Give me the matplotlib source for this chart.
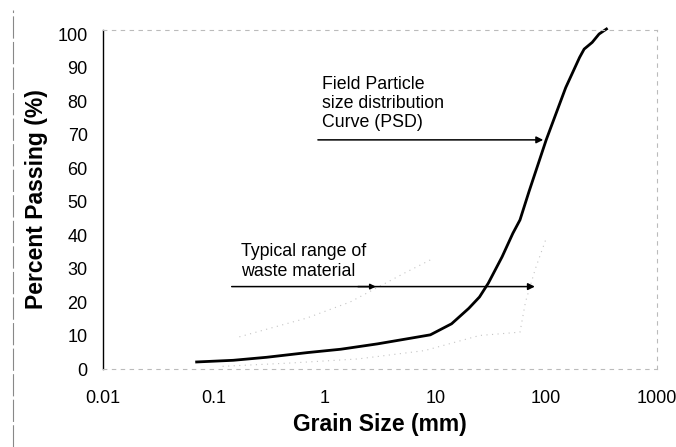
import matplotlib
matplotlib.use("Agg")
import matplotlib.pyplot as plt
from matplotlib.lines import Line2D

# PSD curve data (grain size mm, percent passing)
grain_size = [0.07, 0.15, 0.3, 0.7, 1.4, 3, 6, 9, 14, 20, 25, 30, 40, 50, 58, 70, 100, 150, 200, 220, 260, 300, 350]
percent_passing = [2.1, 2.6, 3.5, 4.9, 5.9, 7.5, 9.2, 10.2, 13.5, 18.1, 21.5, 25.6, 33.5, 40.5, 44.5, 53, 68.4, 84, 93, 95.5, 97.5, 100, 101.5]

# faint envelope of typical waste material range
upper_x = [0.17, 0.69, 1.7, 5.3, 9.3]
upper_y = [9.6, 15.2, 20.0, 28.7, 32.8]
lower_x = [0.12, 0.5, 2, 8, 25, 58, 65, 80, 100]
lower_y = [0.8, 1.8, 3.0, 5.5, 10.0, 11.0, 20.0, 30.0, 39.0]

x_ticks = [0.01, 0.1, 1, 10, 100, 1000]
x_ticklabels = ["0.01", "0.1", "1", "10", "100", "1000"]
y_ticks = [0, 10, 20, 30, 40, 50, 60, 70, 80, 90, 100]

plt.rcParams['font.family'] = ['Liberation Sans', 'DejaVu Sans']

fig = plt.figure(figsize=(6.76, 4.47), dpi=100)
ax = fig.add_axes([103/676, 1 - 369/447, (657-103)/676, (369-30)/447])

ax.set_xscale('log')
ax.set_xlim(0.01, 1000)
ax.set_ylim(0, 101.2)

ax.plot(upper_x, upper_y, color='#c4c4c4', lw=0.8, ls=(0, (1, 4)))
ax.plot(lower_x, lower_y, color='#c4c4c4', lw=0.8, ls=(0, (1, 4)))

ax.plot(grain_size, percent_passing, color='black', lw=2.0, clip_on=False)

# arrows
ax.annotate('', xy=(94, 68.4), xytext=(0.87, 68.4),
            arrowprops=dict(arrowstyle='-|>', color='black', lw=1.1, mutation_scale=10,
                            shrinkA=0, shrinkB=0))
ax.annotate('', xy=(79, 24.6), xytext=(0.145, 24.6),
            arrowprops=dict(arrowstyle='-|>', color='black', lw=1.1, mutation_scale=10,
                            shrinkA=0, shrinkB=0))
ax.annotate('', xy=(2.9, 24.6), xytext=(2.0, 24.6),
            arrowprops=dict(arrowstyle='-|>', color='black', lw=1.1, mutation_scale=8,
                            shrinkA=0, shrinkB=0))

ax.text(0.95, 87.5, "Field Particle\nsize distribution\nCurve (PSD)", fontsize=12.8,
        ha='left', va='top', linespacing=1.17)
ax.text(0.175, 37.5, "Typical range of\nwaste material", fontsize=12.8,
        ha='left', va='top', linespacing=1.17)

ax.set_xticks(x_ticks)
ax.set_xticklabels(x_ticklabels)
ax.set_yticks(y_ticks)
ax.minorticks_off()
ax.tick_params(axis='both', length=0, labelsize=13)
ax.tick_params(axis='x', pad=15)
ax.tick_params(axis='y', pad=11)

for side in ['top', 'right', 'bottom']:
    ax.spines[side].set_color('#bbbbbb')
    ax.spines[side].set_linestyle((0, (3, 5)))
    ax.spines[side].set_linewidth(0.8)
ax.spines['left'].set_color('black')
ax.spines['left'].set_linewidth(1.0)

ax.set_xlabel("Grain Size (mm)", fontsize=16.5, fontweight='bold', labelpad=4.5)
ax.set_ylabel("Percent Passing (%)", fontsize=16.5, fontweight='bold', labelpad=7)

# scan border line at left
fig.add_artist(Line2D([13/676, 13/676], [0, 1 - 10/447], color='#888888', lw=0.8,
                      transform=fig.transFigure, ls=(0, (20, 3))))

fig.savefig("out.png", dpi=100)
